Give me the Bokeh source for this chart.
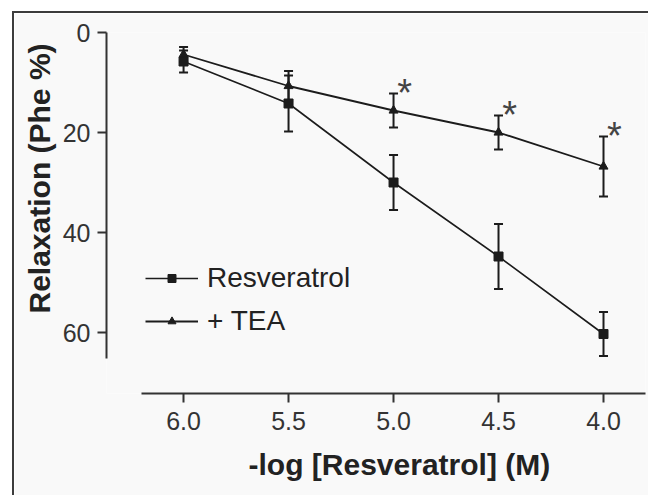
from bokeh.plotting import figure
from bokeh.models import Range1d, FixedTicker, Whisker, TeeHead, ColumnDataSource, Title
from bokeh.core.properties import value
from bokeh.embed import file_html
from bokeh.resources import INLINE

# ---- data ----
log_conc = [6.0, 5.5, 5.0, 4.5, 4.0]
x_tick_labels = ["6.0", "5.5", "5.0", "4.5", "4.0"]
y_ticks = [0, 20, 40, 60]
resveratrol = [5.8, 14.2, 30.0, 44.8, 60.3]
resveratrol_err = [2.2, 5.6, 5.5, 6.5, 4.4]
tea = [4.4, 10.7, 15.6, 20.0, 26.8]
tea_err = [1.5, 3.0, 3.4, 3.4, 6.0]
significant = ["", "", "*", "*", "*"]

FONT = "Liberation Sans"
INK = "#1c1c1c"
AX = "#333333"
BG = "#f9f9f9"

p = figure(width=636, height=484,
           x_range=Range1d(6.367, 3.8), y_range=Range1d(72.2, 0),
           output_backend="svg", toolbar_location=None,
           min_border_left=92, min_border_right=5,
           min_border_top=19, min_border_bottom=104)
p.styles = {"border-left": "2px solid #3c3c3c", "border-top": "2px solid #3c3c3c",
            "margin-left": "12px", "margin-top": "11px"}
p.background_fill_color = BG
p.border_fill_color = BG
p.outline_line_color = None
p.xgrid.visible = False
p.ygrid.visible = False

res_src = ColumnDataSource(dict(
    x=log_conc, y=resveratrol,
    upper=[v + e for v, e in zip(resveratrol, resveratrol_err)],
    lower=[v - e for v, e in zip(resveratrol, resveratrol_err)]))
tea_src = ColumnDataSource(dict(
    x=log_conc, y=tea,
    upper=[v + e for v, e in zip(tea, tea_err)],
    lower=[v - e for v, e in zip(tea, tea_err)]))

for src in (res_src, tea_src):
    w = Whisker(base="x", upper="upper", lower="lower", source=src,
                line_color=INK, line_width=2,
                upper_head=TeeHead(size=9, line_color=INK, line_width=2),
                lower_head=TeeHead(size=9, line_color=INK, line_width=2))
    p.add_layout(w)

p.line("x", "y", source=res_src, line_color=INK, line_width=1.6, legend_label="Resveratrol")
p.scatter("x", "y", source=res_src, marker="square", size=9, fill_color=INK,
          line_color=INK, legend_label="Resveratrol")
p.line("x", "y", source=tea_src, line_color=INK, line_width=1.8, legend_label="+ TEA")
p.scatter("x", "y", source=tea_src, marker="triangle", size=9, fill_color=INK,
          line_color=INK, legend_label="+ TEA")

# significance marks above the TEA error bars
star_x = [x for x, s in zip(log_conc, significant) if s]
star_y = [v - e for v, e, s in zip(tea, tea_err, significant) if s]
star_t = [s for s in significant if s]
p.text(x=star_x, y=star_y, text=star_t, x_offset=11, y_offset=-1,
       text_align="center", text_baseline="alphabetic",
       text_font=value(FONT), text_font_size="38px", text_color="#444444")

# axes
p.xaxis.ticker = FixedTicker(ticks=log_conc)
p.xaxis.major_label_overrides = {t: l for t, l in zip(log_conc, x_tick_labels)}
p.yaxis.ticker = FixedTicker(ticks=y_ticks)
p.xaxis.bounds = (3.8, 6.2)
p.yaxis.bounds = (0, 65.2)
for ax in (p.xaxis[0], p.yaxis[0]):
    ax.axis_line_width = 2
    ax.axis_line_color = AX
    ax.major_tick_line_width = 2
    ax.major_tick_line_color = AX
    ax.major_tick_in = 0
    ax.major_tick_out = 9
    ax.minor_tick_out = 0
    ax.minor_tick_in = 0
    ax.major_label_text_font = FONT
    ax.major_label_text_font_size = "25px"
    ax.major_label_text_color = AX
p.xaxis.major_label_standoff = 9
p.yaxis.major_label_standoff = 7

# axis titles, placed along the axis lines as in the reference
xt = Title(text="-log [Resveratrol] (M)", align="left", offset=142,
           vertical_align="middle",
           text_font=FONT, text_font_size="30px", text_font_style="bold",
           text_color="#222222", standoff=28)
p.add_layout(xt, "below")
yt = Title(text="Relaxation (Phe %)", align="left", offset=80,
           text_font=FONT, text_font_size="30px", text_font_style="bold",
           text_color="#222222", standoff=8)
p.add_layout(yt, "left")

lg = p.legend[0]
lg.location = (39, 56)
lg.label_text_font = FONT
lg.label_text_font_size = "28px"
lg.label_text_color = "#222222"
lg.glyph_width = 53
lg.glyph_height = 20
lg.label_height = 30
lg.label_standoff = 9
lg.spacing = 11
lg.padding = 0
lg.margin = 0
lg.border_line_color = None
lg.background_fill_alpha = 0

open("out.html", "w").write(file_html(p, INLINE))
